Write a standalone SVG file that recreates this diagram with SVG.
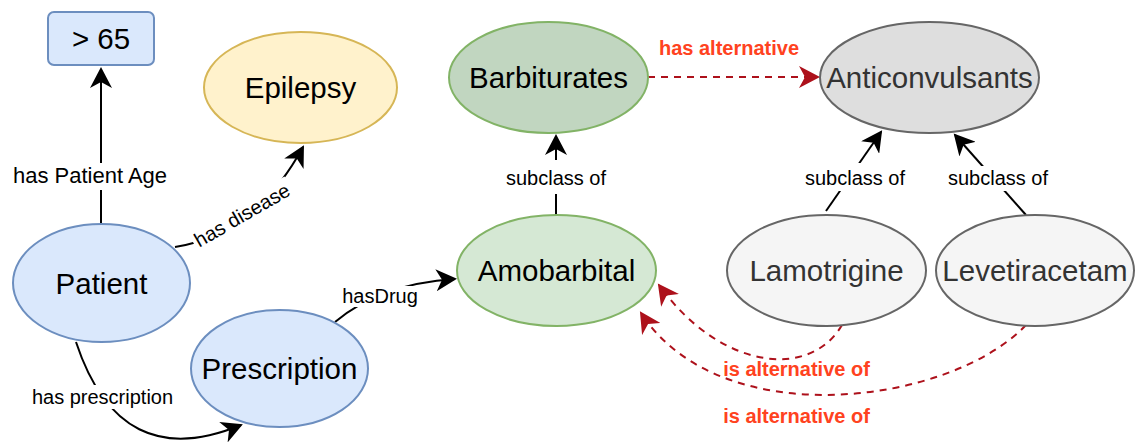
<svg xmlns="http://www.w3.org/2000/svg" width="1137" height="444" viewBox="0 0 1137 444">
  <style>
    .node-text { font-family: "Liberation Sans", Arial, sans-serif; font-size: 29.5px; text-anchor: middle; }
    .edge { fill: none; stroke: #000; stroke-width: 2; }
    .alt { fill: none; stroke: #ad111b; stroke-width: 2; stroke-dasharray: 7 6; }
    .lbl { font-family: "Liberation Sans", Arial, sans-serif; font-size: 20px; text-anchor: middle; fill: #000; }
    .alt-lbl { font-family: "Liberation Sans", Arial, sans-serif; font-size: 20px; font-weight: bold; text-anchor: middle; fill: #ff4220; }
    .bg { fill: #fff; }
    .blue { fill: #dae8fc; stroke: #6c8ebf; stroke-width: 2; }
    .yellow { fill: #fff2cc; stroke: #d6b656; stroke-width: 2; }
    .green { fill: #d5e8d4; stroke: #82b366; stroke-width: 2; }
    .darkgreen { fill: #c1d6c0; stroke: #82b366; stroke-width: 2; }
    .gray { fill: #dedede; stroke: #666; stroke-width: 2; }
    .lightgray { fill: #f5f5f5; stroke: #666; stroke-width: 2; }
  </style>
  <defs>
    <marker id="arrow" markerUnits="userSpaceOnUse" markerWidth="22" markerHeight="22" viewBox="0 0 22 22" refX="19" refY="11" orient="auto">
      <path d="M21,11 L0,0 L6,11 L0,22 Z" fill="#000"/>
    </marker>
    <marker id="arrow-red" markerUnits="userSpaceOnUse" markerWidth="22" markerHeight="22" viewBox="0 0 22 22" refX="19" refY="11" orient="auto">
      <path d="M21,11 L0,0 L6,11 L0,22 Z" fill="#ad111b"/>
    </marker>
  </defs>

  <rect width="1137" height="444" fill="#fff"/>

  <!-- connectors -->
  <g id="connectors">
    <!-- Patient -> > 65 -->
    <path class="edge" d="M101,224 L101,69" marker-end="url(#arrow)"/>
    <rect class="bg" x="8" y="163" width="164" height="27"/>
    <text class="lbl" x="90" y="183" style="font-size:22px">has Patient Age</text>

    <!-- Patient -> Epilepsy -->
    <path class="edge" d="M175,247 Q255,235 303,147" marker-end="url(#arrow)"/>
    <g transform="translate(242,215) rotate(-30)">
      <rect class="bg" x="-56" y="-12" width="112" height="22"/>
      <text class="lbl" x="0" y="7">has disease</text>
    </g>

    <!-- Patient -> Prescription -->
    <path class="edge" d="M76,342 Q120,475 241,425" marker-end="url(#arrow)"/>
    <rect class="bg" x="30" y="385" width="146" height="24"/>
    <text class="lbl" x="102.5" y="404">has prescription</text>

    <!-- Prescription -> Amobarbital -->
    <path class="edge" d="M335,322 Q380,284 455,279" marker-end="url(#arrow)"/>
    <rect class="bg" x="341" y="286" width="78" height="21"/>
    <text class="lbl" x="380" y="303">hasDrug</text>

    <!-- Amobarbital -> Barbiturates -->
    <path class="edge" d="M556,215 L556,136" marker-end="url(#arrow)"/>
    <rect class="bg" x="504" y="160" width="104" height="34"/>
    <text class="lbl" x="556" y="185">subclass of</text>

    <!-- Lamotrigine -> Anticonvulsants -->
    <path class="edge" d="M826,211 L881,132" marker-end="url(#arrow)"/>
    <rect class="bg" x="803" y="163" width="104" height="28"/>
    <text class="lbl" x="855" y="185">subclass of</text>

    <!-- Levetiracetam -> Anticonvulsants -->
    <path class="edge" d="M1026,215 L955,135" marker-end="url(#arrow)"/>
    <rect class="bg" x="946" y="166" width="104" height="25"/>
    <text class="lbl" x="998" y="185">subclass of</text>

    <!-- Barbiturates -> Anticonvulsants -->
    <path class="alt" d="M648,77 L818,77" marker-end="url(#arrow-red)"/>
    <text class="alt-lbl" x="729" y="55">has alternative</text>

    <!-- Lamotrigine -> Amobarbital -->
    <path class="alt" d="M842,325 C810,380 720,370 659,285" marker-end="url(#arrow-red)"/>
    <text class="alt-lbl" x="796.5" y="376">is alternative of</text>

    <!-- Levetiracetam -> Amobarbital -->
    <path class="alt" d="M1026,325 C950,405 720,435 641,313" marker-end="url(#arrow-red)"/>
    <text class="alt-lbl" x="796.5" y="423">is alternative of</text>
  </g>

  <!-- nodes -->
  <g id="age">
    <rect class="blue" x="48" y="12" width="106" height="53" rx="6"/>
    <text class="node-text" x="101" y="49">&gt; 65</text>
  </g>
  <g id="epilepsy">
    <ellipse class="yellow" cx="300.5" cy="87.5" rx="96.5" ry="55.5"/>
    <text class="node-text" x="300.5" y="98">Epilepsy</text>
  </g>
  <g id="patient">
    <ellipse class="blue" cx="101.5" cy="283" rx="88.5" ry="59"/>
    <text class="node-text" x="101.5" y="293.5">Patient</text>
  </g>
  <g id="prescription">
    <ellipse class="blue" cx="279.5" cy="368.5" rx="88.5" ry="58.5"/>
    <text class="node-text" x="279.5" y="379">Prescription</text>
  </g>
  <g id="barbiturates">
    <ellipse class="darkgreen" cx="548.5" cy="77.5" rx="99.5" ry="55.5"/>
    <text class="node-text" x="548.5" y="88">Barbiturates</text>
  </g>
  <g id="amobarbital">
    <ellipse class="green" cx="556.5" cy="270.5" rx="99.5" ry="55.5"/>
    <text class="node-text" x="556.5" y="281">Amobarbital</text>
  </g>
  <g id="anticonvulsants">
    <ellipse class="gray" cx="929.5" cy="77.5" rx="109.5" ry="55.5"/>
    <text class="node-text" x="929.5" y="88" fill="#333">Anticonvulsants</text>
  </g>
  <g id="lamotrigine">
    <ellipse class="lightgray" cx="826.5" cy="270.5" rx="99.5" ry="55.5"/>
    <text class="node-text" x="826.5" y="281" fill="#333">Lamotrigine</text>
  </g>
  <g id="levetiracetam">
    <ellipse class="lightgray" cx="1035" cy="270.5" rx="99" ry="55.5"/>
    <text class="node-text" x="1035" y="281" fill="#333">Levetiracetam</text>
  </g>
</svg>
